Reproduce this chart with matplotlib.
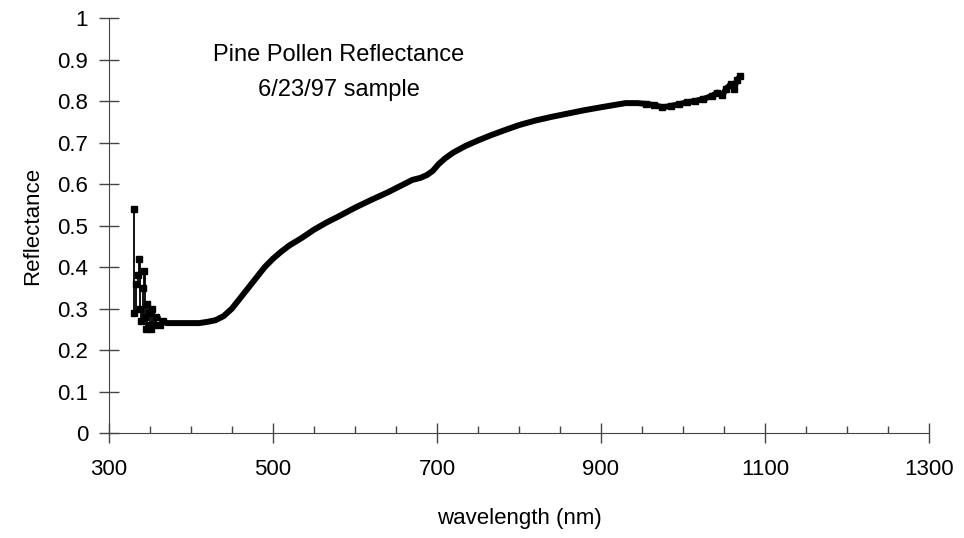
import numpy as np
import matplotlib
matplotlib.use("Agg")
import matplotlib.pyplot as plt

plt.rcParams['font.family'] = ['Liberation Sans', 'DejaVu Sans']

# spectrum (nm, reflectance)
wl = [330, 331, 333, 335, 337, 338, 339, 341, 343, 344, 345, 347, 349, 350,
      351, 353, 355, 358, 362, 366, 370, 380, 390, 400, 410, 420, 430, 440,
      450, 460, 470, 480, 490, 500, 510, 520, 535, 550, 565, 580, 600, 620,
      640, 655, 670, 680, 688, 695, 702, 710, 720, 735, 750, 765, 780, 800,
      820, 840, 860, 880, 900, 915, 930, 945, 955, 965, 975, 985, 995, 1005,
      1015, 1025, 1035, 1042, 1048, 1053, 1058, 1062, 1066, 1070]
refl = [0.54, 0.29, 0.36, 0.38, 0.42, 0.30, 0.27, 0.35, 0.39, 0.28, 0.25, 0.31,
        0.29, 0.26, 0.25, 0.30, 0.26, 0.28, 0.26, 0.27, 0.265, 0.265, 0.265,
        0.265, 0.265, 0.268, 0.272, 0.282, 0.30, 0.325, 0.35, 0.375, 0.40,
        0.42, 0.437, 0.452, 0.47, 0.49, 0.507, 0.522, 0.543, 0.562, 0.58,
        0.595, 0.61, 0.615, 0.622, 0.632, 0.648, 0.662, 0.676, 0.692, 0.705,
        0.717, 0.728, 0.742, 0.753, 0.762, 0.77, 0.778, 0.785, 0.79, 0.795,
        0.795, 0.793, 0.79, 0.785, 0.788, 0.792, 0.797, 0.80, 0.805, 0.812,
        0.82, 0.815, 0.83, 0.84, 0.83, 0.85, 0.86]

xticks = [300, 500, 700, 900, 1100, 1300]
xminor = [350, 400, 450, 550, 600, 650, 750, 800, 850, 950, 1000, 1050, 1150, 1200, 1250]
yticks = [0, 0.1, 0.2, 0.3, 0.4, 0.5, 0.6, 0.7, 0.8, 0.9, 1]
ylabels = ['0', '0.1', '0.2', '0.3', '0.4', '0.5', '0.6', '0.7', '0.8', '0.9', '1']

fig = plt.figure(figsize=(9.64, 5.38), dpi=100)
ax = fig.add_axes([0.113, 0.195, 0.8507, 0.7715])

ax.plot(wl[:20], refl[:20], color='black', lw=1.3, marker='s', ms=4.5, drawstyle='steps-post')
ax.plot(wl[19:], refl[19:], color='black', lw=4.3, solid_capstyle='butt')
ax.plot(wl[64:], refl[64:], color='black', lw=0, marker='s', ms=5)

ax.set_xlim(300, 1300)
ax.set_ylim(0, 1)
ax.set_xticks(xticks)
ax.set_xticks(xminor, minor=True)
ax.set_yticks(yticks)
ax.set_yticklabels(ylabels)

for s in ['top', 'right']:
    ax.spines[s].set_visible(False)
ax.spines['left'].set_color('#444444')
ax.spines['bottom'].set_color('#444444')

ax.tick_params(axis='both', which='major', direction='inout', length=14, width=1,
               color='#444444', labelsize=16)
ax.tick_params(axis='y', which='major', pad=8)
ax.tick_params(axis='x', which='major', pad=12)
ax.tick_params(axis='x', which='minor', direction='in', length=5, width=1, color='#444444')

ax.set_xlabel('wavelength (nm)', fontsize=16, labelpad=20)
ax.set_ylabel('Reflectance', fontsize=16, labelpad=10)

ax.text(0.28, 0.868, 'Pine Pollen Reflectance\n6/23/97 sample', transform=ax.transAxes,
        ha='center', va='center', fontsize=17, linespacing=1.75)

fig.savefig('out.png', dpi=100)
